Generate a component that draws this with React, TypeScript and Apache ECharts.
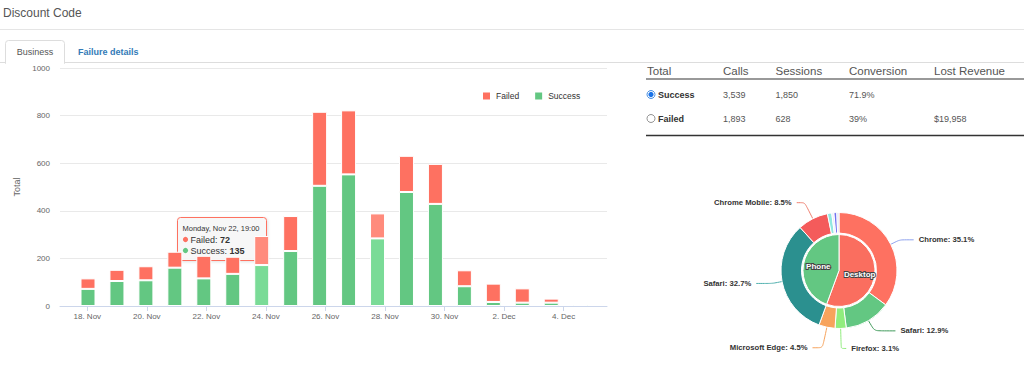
import React, { useEffect, useRef } from 'react';
import * as echarts from 'echarts';

// ---- bar chart data ----
const days = [
  '2021-11-17', '2021-11-18', '2021-11-19', '2021-11-20', '2021-11-21', '2021-11-22',
  '2021-11-23', '2021-11-24', '2021-11-25', '2021-11-26', '2021-11-27', '2021-11-28',
  '2021-11-29', '2021-11-30', '2021-12-01', '2021-12-02', '2021-12-03', '2021-12-04',
];
const barHour = 19;
const successCalls = [72, 105, 108, 161, 116, 135, 172, 231, 505, 553, 284, 479, 429, 83, 17, 14, 14, 7];
const failedCalls = [44, 47, 59, 67, 95, 72, 122, 147, 311, 269, 105, 152, 168, 67, 77, 60, 17, 0];
const lightBars = ['2021-11-23', '2021-11-27'];
const tickDays = [
  '2021-11-18', '2021-11-20', '2021-11-22', '2021-11-24', '2021-11-26',
  '2021-11-28', '2021-11-30', '2021-12-02', '2021-12-04',
];
const axisStart = '2021-11-17T02:00:00Z';
const axisEnd = '2021-12-05T11:00:00Z';
const monthNames = ['Jan', 'Feb', 'Mar', 'Apr', 'May', 'Jun', 'Jul', 'Aug', 'Sep', 'Oct', 'Nov', 'Dec'];
const dayNames = ['Sunday', 'Monday', 'Tuesday', 'Wednesday', 'Thursday', 'Friday', 'Saturday'];
const yMax = 1000;
const yInterval = 200;
const tooltipDay = '2021-11-22';

// ---- table data ----
const tableHeaders = ['Total', 'Calls', 'Sessions', 'Conversion', 'Lost Revenue'];
const rowNames = ['Success', 'Failed'];
const rowCalls = ['3,539', '1,893'];
const rowSessions = ['1,850', '628'];
const rowConversion = ['71.9%', '39%'];
const rowLostRevenue = ['', '$19,958'];

// ---- pie data ----
const deviceNames = ['Desktop', 'Phone'];
const deviceShares = [55.6, 44.4];
const browserNames = ['Chrome', 'Safari', 'Firefox', 'Microsoft Edge', 'Safari', 'Chrome Mobile', 'Samsung Internet', 'Opera', 'Android Webview', 'Other'];
const browserShares = [35.1, 12.9, 3.1, 4.5, 32.7, 8.5, 1.2, 0.6, 0.8, 0.6];
const browserLabelled = [true, true, true, true, true, true, false, false, false, false];

const RED = '#fe7161';
const GREEN = '#63c782';
const RED_LIGHT = '#ff8b7c';
const GREEN_LIGHT = '#7adb97';
const browserColors = ['#fe7161', '#63c782', '#90ed7d', '#f7a35c', '#2b908f', '#f45b5b', '#91e8e1', '#e8ecf8', '#7070f0', '#dfe4f4'];
const browserLineColors = ['#8ea2ee', '#3f9a5a', '#90ed7d', '#f7a35c', '#4fb0ae', '#f08070', '#ccc', '#ccc', '#ccc', '#ccc'];
const browserLine1 = [10, 12, 20, 21, 10, 18, 8, 8, 8, 8];
const browserLine2 = [14, 21, 5, 10, 16, 8, 8, 8, 8, 8];
const deviceColors = ['#fa6e5f', '#63c782'];

const SANS = 'Liberation Sans, Arial, sans-serif';

const toTime = (d: string, h: number) => Date.parse(d + 'T' + String(h).padStart(2, '0') + ':00:00Z');

export default function App() {
  const ref = useRef<HTMLDivElement>(null);

  useEffect(() => {
    if (!ref.current) return;
    const chart = echarts.init(ref.current, undefined, { renderer: 'svg' });

    const successData = days.map((d, i) => ({
      value: [toTime(d, barHour), successCalls[i]],
      itemStyle: lightBars.includes(d) ? { color: GREEN_LIGHT } : undefined,
    }));
    const failedData = days.map((d, i) => ({
      value: [toTime(d, barHour), failedCalls[i]],
      itemStyle: lightBars.includes(d) ? { color: RED_LIGHT } : undefined,
    }));
    const tickValues = tickDays.map((d) => toTime(d, 0));

    const option: any = {
      animation: false,
      useUTC: true,
      textStyle: { fontFamily: SANS },
      legend: {
        data: ['Failed', 'Success'],
        left: 476,
        top: 85.5,
        itemWidth: 9,
        itemHeight: 9,
        itemGap: 14,
        icon: 'rect',
        textStyle: { fontSize: 8.5, color: '#333', fontFamily: SANS },
      },
      grid: { left: 60, right: 417, top: 68, bottom: 85, containLabel: false },
      xAxis: [
        {
          type: 'time',
          min: Date.parse(axisStart),
          max: Date.parse(axisEnd),
          position: 'bottom',
          splitLine: { show: false },
          axisLine: { show: true, lineStyle: { color: '#ccd6eb' } },
          axisTick: { show: false },
          axisLabel: { show: false },
        },
        {
          type: 'value',
          min: Date.parse(axisStart),
          max: Date.parse(axisEnd),
          position: 'bottom',
          offset: 0,
          splitLine: { show: false },
          axisLine: { show: false },
          axisTick: {
            show: true,
            length: 5,
            lineStyle: { color: '#ccd6eb' },
            customValues: tickValues,
          },
          axisLabel: {
            fontSize: 8,
            color: '#666',
            margin: 6,
            customValues: tickValues,
            formatter: (v: number) => {
              const dt = new Date(v);
              return dt.getUTCDate() + '. ' + monthNames[dt.getUTCMonth()];
            },
          },
        },
      ],
      yAxis: {
        type: 'value',
        min: 0,
        max: yMax,
        interval: yInterval,
        name: 'Total',
        nameLocation: 'middle',
        nameGap: 28,
        nameRotate: 90,
        nameTextStyle: { fontSize: 9, color: '#666' },
        axisLine: { show: false },
        axisTick: { show: false },
        axisLabel: { fontSize: 8, color: '#666', margin: 10, formatter: (v: number) => String(v) },
        splitLine: { lineStyle: { color: '#e9e9e9' } },
      },
      series: [
        {
          name: 'Success',
          type: 'bar',
          xAxisIndex: 0,
          stack: 'total',
          barWidth: 15,
          data: successData,
          itemStyle: { color: GREEN, borderColor: '#fff', borderWidth: 1 },
        },
        {
          name: 'Failed',
          type: 'bar',
          xAxisIndex: 0,
          stack: 'total',
          barWidth: 15,
          data: failedData,
          itemStyle: { color: RED, borderColor: '#fff', borderWidth: 1 },
        },
        {
          name: 'Device',
          type: 'pie',
          center: [839, 270.5],
          radius: [0, 36],
          startAngle: 90,
          data: deviceNames.map((n, i) => ({ name: n, value: deviceShares[i], itemStyle: { color: deviceColors[i] } })),
          itemStyle: { borderColor: '#fff', borderWidth: 1 },
          label: {
            position: 'inner',
            formatter: '{b}',
            color: '#fff',
            fontSize: 8,
            fontWeight: 'bold',
            textBorderColor: '#444',
            textBorderWidth: 2,
            fontFamily: SANS,
          },
          labelLine: { show: false },
        },
        {
          name: 'Browser',
          type: 'pie',
          center: [839, 270.5],
          radius: [37.5, 58],
          startAngle: 90,
          data: browserNames.map((n, i) => ({
            name: n,
            value: browserShares[i],
            itemStyle: { color: browserColors[i] },
            label: { show: browserLabelled[i] },
            labelLine: {
              show: browserLabelled[i],
              length: browserLine1[i],
              length2: browserLine2[i],
              lineStyle: { color: browserLineColors[i] },
            },
          })),
          itemStyle: { borderColor: '#fff', borderWidth: 1 },
          label: {
            formatter: '{b}: {c}%',
            color: '#333',
            fontSize: 7.7,
            fontWeight: 'bold',
            fontFamily: SANS,
          },
          labelLine: { length: 10, length2: 14, smooth: 0.2 },
        },
      ],
    };
    chart.setOption(option);

    // tooltip anchored to the hovered bar
    const tipIdx = days.indexOf(tooltipDay);
    const tipTime = toTime(tooltipDay, barHour);
    const tipTotal = successCalls[tipIdx] + failedCalls[tipIdx];
    const [bx, by] = chart.convertToPixel({ xAxisIndex: 0, yAxisIndex: 0 } as any, [tipTime, tipTotal]) as number[];
    const tdt = new Date(tipTime);
    const tipTitle = dayNames[tdt.getUTCDay()] + ', ' + monthNames[tdt.getUTCMonth()] + ' ' + tdt.getUTCDate() + ', ' +
      String(tdt.getUTCHours()).padStart(2, '0') + ':00';

    const graphics: any[] = [];
    // header
    graphics.push({ type: 'text', x: 3, y: 13, style: { text: 'Discount Code', fontSize: 12, fontFamily: SANS, fill: '#555', verticalAlign: 'middle' } });
    graphics.push({ type: 'line', shape: { x1: 0, y1: 29.5, x2: 1024, y2: 29.5 }, style: { stroke: '#e5e5e5', lineWidth: 1 } });
    // tabs
    graphics.push({ type: 'line', shape: { x1: 0, y1: 62.5, x2: 1024, y2: 62.5 }, style: { stroke: '#ddd', lineWidth: 1 } });
    graphics.push({ type: 'rect', shape: { x: 5.5, y: 40.5, width: 59, height: 23, r: [3, 3, 0, 0] }, style: { fill: '#fff', stroke: '#ddd', lineWidth: 1 } });
    graphics.push({ type: 'rect', shape: { x: 6, y: 61, width: 58, height: 3 }, style: { fill: '#fff' } });
    graphics.push({ type: 'text', x: 35, y: 51.5, style: { text: 'Business', fontSize: 9, fontFamily: SANS, fill: '#555', align: 'center', verticalAlign: 'middle' } });
    graphics.push({ type: 'text', x: 78, y: 51.5, style: { text: 'Failure details', fontSize: 9, fontWeight: 'bold', fontFamily: SANS, fill: '#337ab7', verticalAlign: 'middle' } });

    // table
    const colX = [647, 723, 775.5, 849, 934];
    tableHeaders.forEach((h, i) => {
      graphics.push({ type: 'text', x: colX[i], y: 70.5, style: { text: h, fontSize: 11.5, fontFamily: SANS, fill: '#555', verticalAlign: 'middle' } });
    });
    graphics.push({ type: 'line', shape: { x1: 646, y1: 79, x2: 1024, y2: 79 }, style: { stroke: '#999', lineWidth: 2 } });
    const rowY = [94.5, 118.5];
    rowNames.forEach((n, r) => {
      const y = rowY[r];
      if (r === 0) {
        graphics.push({ type: 'circle', shape: { cx: 651, cy: y, r: 4 }, style: { fill: '#fff', stroke: '#4a90e2', lineWidth: 1 } });
        graphics.push({ type: 'circle', shape: { cx: 651, cy: y, r: 2.6 }, style: { fill: '#1a73e8' } });
      } else {
        graphics.push({ type: 'circle', shape: { cx: 651, cy: y, r: 4 }, style: { fill: '#fff', stroke: '#777', lineWidth: 0.8 } });
      }
      graphics.push({ type: 'text', x: 658, y, style: { text: n, fontSize: 9, fontWeight: 'bold', fontFamily: SANS, fill: '#333', verticalAlign: 'middle' } });
      const vals = [rowCalls[r], rowSessions[r], rowConversion[r], rowLostRevenue[r]];
      vals.forEach((v, c) => {
        if (!v) return;
        graphics.push({ type: 'text', x: colX[c + 1], y, style: { text: v, fontSize: 9, fontFamily: SANS, fill: '#555', verticalAlign: 'middle' } });
      });
    });
    graphics.push({ type: 'line', shape: { x1: 646, y1: 135.5, x2: 1024, y2: 135.5 }, style: { stroke: '#333', lineWidth: 1.5 } });

    // tooltip
    const tx = Math.round(bx - 56) + 0.5;
    const ty = Math.round(by - 40) + 0.5;
    graphics.push({
      type: 'group',
      x: tx,
      y: ty,
      z: 100,
      children: [
        { type: 'rect', shape: { x: 0, y: 0, width: 89, height: 43, r: 3 }, style: { fill: 'rgba(247,247,247,0.92)', stroke: RED, lineWidth: 1, shadowBlur: 3, shadowColor: 'rgba(0,0,0,0.12)', shadowOffsetX: 1, shadowOffsetY: 1 } },
        { type: 'text', x: 5, y: 10.5, style: { text: tipTitle, fontSize: 7.5, fontFamily: SANS, fill: '#333', verticalAlign: 'middle' } },
        { type: 'circle', shape: { cx: 8, cy: 22, r: 2.6 }, style: { fill: RED } },
        {
          type: 'text', x: 13, y: 22,
          style: {
            text: '{a|Failed: }{b|' + failedCalls[tipIdx] + '}', verticalAlign: 'middle', fill: '#333',
            rich: { a: { fontSize: 9, fontFamily: SANS, fill: '#333' }, b: { fontSize: 9, fontWeight: 'bold', fontFamily: SANS, fill: '#333' } },
          },
        },
        { type: 'circle', shape: { cx: 8, cy: 33, r: 2.6 }, style: { fill: GREEN } },
        {
          type: 'text', x: 13, y: 33,
          style: {
            text: '{a|Success: }{b|' + successCalls[tipIdx] + '}', verticalAlign: 'middle', fill: '#333',
            rich: { a: { fontSize: 9, fontFamily: SANS, fill: '#333' }, b: { fontSize: 9, fontWeight: 'bold', fontFamily: SANS, fill: '#333' } },
          },
        },
      ],
    });

    chart.setOption({ graphic: graphics });

    return () => chart.dispose();
  }, []);

  return (
    <div
      ref={ref}
      style={{ position: 'fixed', left: 0, top: 0, width: 1024, height: 391, background: '#fff' }}
    />
  );
}
